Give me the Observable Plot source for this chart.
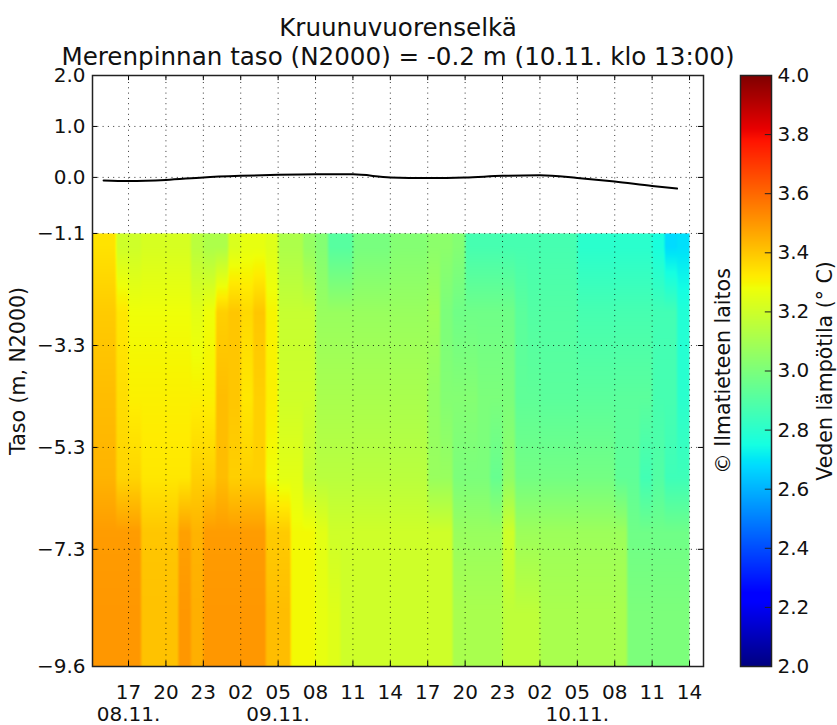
<!DOCTYPE html>
<html>
<head>
<meta charset="utf-8">
<script src="https://cdn.jsdelivr.net/npm/d3@7"></script>
<script src="https://cdn.jsdelivr.net/npm/@observablehq/plot@0.6"></script>
<style>
html,body{margin:0;padding:0;background:#fff}
#wrap{position:relative;width:837px;height:725px;overflow:hidden}
#wrap svg{display:block;background:transparent}
#bar{position:absolute;left:739px;top:0}
</style>
</head>
<body>
<div id="wrap"><div id="main"></div><div id="bar"></div></div>
<script>
const titleLines = ["Kruunuvuorenselkä", "Merenpinnan taso (N2000) = -0.2 m (10.11. klo 13:00)"];
const yLabel = "Taso (m, N2000)";
const creditLabel = "© Ilmatieteen laitos";
const barLabel = "Veden lämpötila (° C)";

// hours counted from 08.11. 00:00
const xTicks = [17,20,23,26,29,32,35,38,41,44,47,50,53,56,59,62];
const xTickLabels = ["17","20","23","02","05","08","11","14","17","20","23","02","05","08","11","14"];
const dateHours = [17,29,53];
const dateLabels = ["08.11.","09.11.","10.11."];
const yTicks = [2,1,0,-1.1,-3.3,-5.3,-7.3,-9.6];
const barTicks = [2,2.2,2.4,2.6,2.8,3,3.2,3.4,3.6,3.8,4];

// sea level line
const seaHours = [15,17,20,23,26,29,32,35,38,41,44,47,50,53,56,59,61];
const seaLevel = [-0.06,-0.07,-0.05,0,0.03,0.05,0.06,0.06,0,-0.01,0,0.03,0.04,-0.01,-0.08,-0.17,-0.22];

// water temperature, one value per hour from 14 to 61, at each depth
const depths = [-1.36,-2.65,-4.32,-5.89,-6.97,-8.54];
const tempA = [3.34,3.34, 3.20,3.20,3.22,3.22, 3.22,3.22,3.15,3.12, 3.12,3.23,3.26,3.26, 3.24,3.12,3.12,3.06, 3.02,2.91,2.91,2.99, 2.99,2.99,3.02,3.02, 3.02,3.04,3.04,3.02, 2.87,2.87,2.87,2.87, 2.87,2.87,2.87,2.87, 2.87,2.80,2.80,2.80, 2.80,2.80,2.80,2.76, 2.68,2.69];
const tempB = [3.39,3.39, 3.33,3.28,3.28,3.28, 3.28,3.28,3.25,3.28, 3.38,3.40,3.36,3.40, 3.30,3.18,3.18,3.18, 3.07,3.07,3.07,3.07, 3.07,3.07,3.07,3.07, 3.07,3.09,3.00,2.97, 2.97,2.97,2.97,2.97, 2.92,2.90,2.90,2.90, 2.90,2.87,2.87,2.87, 2.87,2.87,2.87,2.86, 2.86,2.78];
const tempC = [3.42,3.42, 3.35,3.31,3.31,3.31, 3.31,3.31,3.31,3.31, 3.42,3.40,3.33,3.38, 3.31,3.20,3.20,3.20, 3.11,3.11,3.11,3.11, 3.11,3.11,3.11,3.11, 3.11,3.06,3.02,3.02, 3.02,3.00,3.00,3.00, 2.93,2.93,2.92,2.92, 2.92,2.92,2.92,2.92, 2.92,2.92,2.92,2.87, 2.87,2.80];
const tempD = [3.44,3.44, 3.37,3.37,3.33,3.33, 3.33,3.33,3.38,3.38, 3.42,3.38,3.38,3.38, 3.28,3.25,3.25,3.17, 3.15,3.15,3.15,3.15, 3.15,3.15,3.15,3.15, 3.15,3.07,3.07,3.00, 3.00,3.00,2.95,3.05, 2.98,2.98,2.98,2.98, 2.98,2.98,2.98,2.98, 2.93,2.93,2.86,2.90, 2.85,2.85];
const tempE = [3.49,3.49, 3.49,3.49,3.40,3.40, 3.40,3.48,3.44,3.49, 3.49,3.49,3.49,3.49, 3.39,3.39,3.29,3.29, 3.25,3.20,3.20,3.20, 3.20,3.20,3.20,3.20, 3.20,3.20,3.20,3.07, 3.07,3.07,3.07,3.20, 3.08,3.08,3.08,3.08, 3.08,3.08,3.08,3.08, 3.08,2.97,2.97,2.97, 2.97,2.97];
const tempF = [3.50,3.50, 3.50,3.50,3.41,3.41, 3.41,3.50,3.45,3.50, 3.50,3.50,3.50,3.50, 3.42,3.42,3.29,3.29, 3.26,3.24,3.20,3.20, 3.20,3.20,3.20,3.20, 3.20,3.20,3.20,3.11, 3.11,3.11,3.11,3.16, 3.16,3.16,3.11,3.11, 3.11,3.11,3.11,3.11, 3.11,3.00,3.00,3.00, 3.00,3.00];
const tempRows = [tempA,tempB,tempC,tempD,tempE,tempF];

// jet colour map stops
const jetStops = [2,2.22,2.25,2.68,2.70,2.75,3.28,3.30,3.32,3.78,3.82,4];
const jetColors = ["#00007f","#0000ff","#0000ff","#00dbff","#00e6f7","#15ffe2","#efff08","#f7f500","#ffec00","#ff1300","#e80000","#7f0000"];
const colorOptions = {type:"linear",domain:jetStops,range:jetColors,interpolate:"rgb",clamp:true};

function rowValue(r,x){
  const row = tempRows[r];
  const c = Math.min(row.length-1,Math.max(0,Math.floor(x)-14));
  const f = x-Math.floor(x);
  const ramp = 0.12;
  if (f<ramp && c>0) return row[c-1]+(row[c]-row[c-1])*(0.5+f/(2*ramp));
  if (f>1-ramp && c<row.length-1) return row[c]+(row[c+1]-row[c])*(f-(1-ramp))/(2*ramp);
  return row[c];
}
function temp(x,y){
  if (y>=depths[0]) return rowValue(0,x);
  const n = depths.length-1;
  if (y<=depths[n]) return rowValue(n,x);
  let i=0; while (y<depths[i+1]) i++;
  const t=(depths[i]-y)/(depths[i]-depths[i+1]);
  return rowValue(i,x)*(1-t)+rowValue(i+1,x)*t;
}

const minus = d => d.toFixed(1).replace("-","\u2212");
const xMin = 14.11, xMax = 63.12, xEnd = 62, yMin = -9.6, yMax = 2, yTop = -1.1;
const font = "DejaVu Sans";
const ink = "#111";
const dots = "1,4.3";
const one = [0];

const main = Plot.plot({
  width:837,height:725,marginLeft:92,marginRight:134,marginTop:75,marginBottom:59,
  style:{fontFamily:font,background:"transparent",color:ink},
  x:{domain:[xMin,xMax]},
  y:{domain:[yMin,yMax]},
  color:colorOptions,
  marks:[
    Plot.raster({fill:temp,x1:xMin,x2:xEnd,y1:yMin,y2:yTop,pixelSize:1}),
    Plot.ruleX(xTicks,{x:d=>d,y1:yMin,y2:yMax,stroke:"#000",strokeOpacity:0.8,strokeWidth:1,strokeDasharray:dots}),
    Plot.ruleY(yTicks.slice(1,-1),{y:d=>d,x1:xMin,x2:xMax,stroke:"#000",strokeOpacity:0.8,strokeWidth:1,strokeDasharray:dots}),
    Plot.line(seaHours,{x:d=>d,y:(d,i)=>seaLevel[i],curve:"monotone-x",stroke:"#000",strokeWidth:2}),
    Plot.ruleX(xTicks,{x:d=>d,y1:yMin,y2:yMin+0.1,stroke:"#000"}),
    Plot.ruleX(xTicks,{x:d=>d,y1:yMax-0.1,y2:yMax,stroke:"#000"}),
    Plot.ruleY(yTicks,{y:d=>d,x1:xMin,x2:xMin+0.4,stroke:"#000"}),
    Plot.ruleY(yTicks,{y:d=>d,x1:xMax-0.4,x2:xMax,stroke:"#000"}),
    Plot.frame({stroke:"#222",strokeWidth:1.5}),
    Plot.axisX(xTicks,{anchor:"bottom",tickSize:0,tickPadding:18,fontSize:20,label:null,
      tickFormat:d=>xTickLabels[xTicks.indexOf(d)]}),
    Plot.axisY(yTicks,{anchor:"left",tickSize:0,tickPadding:7,fontSize:20,label:null,tickFormat:minus}),
    Plot.text(dateHours,{x:d=>d,frameAnchor:"bottom",lineAnchor:"middle",dy:48,text:(d,i)=>dateLabels[i],fontSize:20,fill:ink}),
    Plot.text([titleLines[0]],{frameAnchor:"top",lineAnchor:"middle",dy:-47,text:d=>d,fontSize:24.6,fill:ink}),
    Plot.text([titleLines[1]],{frameAnchor:"top",lineAnchor:"middle",dy:-18,text:d=>d,fontSize:24.6,fill:ink}),
    Plot.text([yLabel],{frameAnchor:"left",textAnchor:"middle",lineAnchor:"middle",dx:-74,rotate:-90,text:d=>d,fontSize:20.5,fill:ink}),
    Plot.text([creditLabel],{frameAnchor:"right",textAnchor:"middle",lineAnchor:"middle",dx:20,rotate:-90,text:d=>d,fontSize:20.5,fill:ink}),
    Plot.text([barLabel],{frameAnchor:"right",textAnchor:"middle",lineAnchor:"middle",dx:122,rotate:-90,text:d=>d,fontSize:20.5,fill:ink})
  ]
});
document.getElementById("main").append(main);

const bar = Plot.plot({
  width:98,height:725,marginLeft:1,marginRight:66,marginTop:75,marginBottom:59,
  style:{fontFamily:font,background:"transparent",color:ink},
  x:{domain:[0,1],axis:null},
  y:{domain:[2,4]},
  color:colorOptions,
  marks:[
    Plot.raster({fill:(x,y)=>y,x1:0,x2:1,y1:2,y2:4,pixelSize:1}),
    Plot.ruleY(barTicks,{y:d=>d,x1:0.8,x2:1,stroke:"#222"}),
    Plot.frame({stroke:"#222",strokeWidth:1.5}),
    Plot.axisY(barTicks,{anchor:"right",tickSize:0,tickPadding:6,fontSize:20,label:null,tickFormat:d=>d.toFixed(1)})
  ]
});
document.getElementById("bar").append(bar);
</script>
</body>
</html>
